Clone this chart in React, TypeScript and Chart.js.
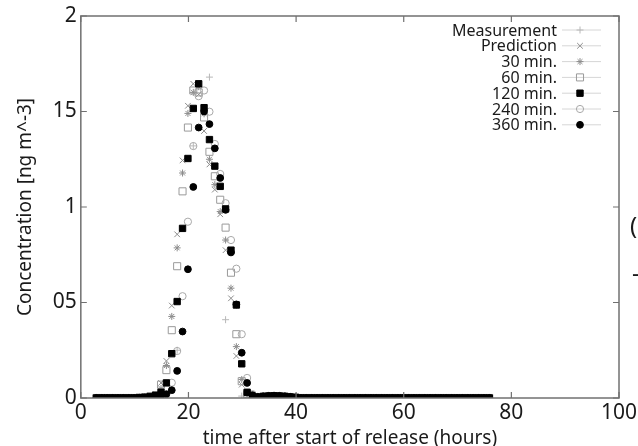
import React, { useEffect, useRef } from 'react';
import { Chart, registerables } from 'chart.js';
import { drawPoint } from 'chart.js/helpers';

Chart.register(...registerables);

// time after start of release (hours)
const HOURS = [
  2.9, 3.9, 4.9, 5.9, 6.9, 7.9, 8.9, 9.9,
  10.9, 11.9, 12.9, 13.9,
  14.9, 15.9, 16.9, 17.9, 18.9, 19.9, 20.9, 21.9, 22.9, 23.9, 24.9, 25.9, 26.9, 27.9, 28.9, 29.9, 30.9, 31.9,
  32.9, 33.9, 34.9, 35.9, 36.9, 37.9, 38.9, 39.9,
  40.9, 41.9, 42.9, 43.9, 44.9, 45.9, 46.9, 47.9, 48.9, 49.9, 50.9, 51.9, 52.9, 53.9, 54.9, 55.9, 56.9, 57.9,
  58.9, 59.9, 60.9, 61.9, 62.9, 63.9, 64.9, 65.9, 66.9, 67.9, 68.9, 69.9, 70.9, 71.9, 72.9, 73.9, 74.9, 75.9,
];

const PREDICTION = [
  0, 0, 0, 0, 0, 0, 0, 0,
  0.002, 0.004, 0.008, 0.02,
  0.079, 0.194, 0.484, 0.857, 1.244, 1.53, 1.645, 1.59, 1.398, 1.223, 1.091, 0.962, 0.774, 0.522, 0.22, 0.07, 0.01, 0.003,
  0.003, 0.006, 0.008, 0.009, 0.008, 0.006, 0.004, 0.002,
  0, 0, 0, 0, 0, 0, 0, 0, 0, 0, 0, 0, 0, 0, 0, 0, 0, 0,
  0, 0, 0, 0, 0, 0, 0, 0, 0, 0, 0, 0, 0, 0, 0, 0, 0, 0,
];

const MIN30 = [
  0, 0, 0, 0, 0, 0, 0, 0,
  0.002, 0.004, 0.006, 0.01,
  0.05, 0.17, 0.427, 0.786, 1.178, 1.49, 1.6, 1.63, 1.488, 1.25, 1.117, 0.976, 0.827, 0.575, 0.269, 0.097, 0.02, 0.005,
  0.004, 0.007, 0.009, 0.01, 0.009, 0.007, 0.004, 0.002,
  0, 0, 0, 0, 0, 0, 0, 0, 0, 0, 0, 0, 0, 0, 0, 0, 0, 0,
  0, 0, 0, 0, 0, 0, 0, 0, 0, 0, 0, 0, 0, 0, 0, 0, 0, 0,
];

const MIN60 = [
  0, 0, 0, 0, 0, 0, 0, 0,
  0.002, 0.004, 0.008, 0.01,
  0.07, 0.146, 0.355, 0.69, 1.082, 1.416, 1.61, 1.6, 1.469, 1.289, 1.161, 1.038, 0.892, 0.656, 0.334, 0.088, 0.02, 0.005,
  0.004, 0.007, 0.009, 0.01, 0.009, 0.007, 0.004, 0.002,
  0, 0, 0, 0, 0, 0, 0, 0, 0, 0, 0, 0, 0, 0, 0, 0, 0, 0,
  0, 0, 0, 0, 0, 0, 0, 0, 0, 0, 0, 0, 0, 0, 0, 0, 0, 0,
];

const MIN120 = [
  0, 0, 0, 0, 0, 0, 0, 0,
  0.002, 0.004, 0.008, 0.015,
  0.03, 0.079, 0.232, 0.505, 0.888, 1.254, 1.516, 1.645, 1.52, 1.353, 1.214, 1.108, 0.99, 0.774, 0.487, 0.179, 0.03, 0.008,
  0.004, 0.008, 0.01, 0.011, 0.01, 0.008, 0.005, 0.003,
  0, 0, 0, 0, 0, 0, 0, 0, 0, 0, 0, 0, 0, 0, 0, 0, 0, 0,
  0, 0, 0, 0, 0, 0, 0, 0, 0, 0, 0, 0, 0, 0, 0, 0, 0, 0,
];

const MIN240 = [
  0, 0, 0, 0, 0, 0, 0, 0,
  0.001, 0.002, 0.004, 0.006,
  0.02, 0.05, 0.08, 0.246, 0.533, 0.923, 1.319, 1.58, 1.61, 1.499, 1.33, 1.173, 1.02, 0.827, 0.677, 0.334, 0.105, 0.02,
  0.006, 0.009, 0.011, 0.012, 0.011, 0.009, 0.006, 0.003,
  0, 0, 0, 0, 0, 0, 0, 0, 0, 0, 0, 0, 0, 0, 0, 0, 0, 0,
  0, 0, 0, 0, 0, 0, 0, 0, 0, 0, 0, 0, 0, 0, 0, 0, 0, 0,
];

const MIN360 = [
  0, 0, 0, 0, 0, 0, 0, 0,
  0.001, 0.002, 0.003, 0.005,
  0.01, 0.02, 0.041, 0.142, 0.348, 0.674, 1.105, 1.416, 1.5, 1.434, 1.307, 1.152, 0.985, 0.762, 0.49, 0.237, 0.079, 0.015,
  0.006, 0.009, 0.011, 0.012, 0.011, 0.009, 0.006, 0.003,
  0, 0, 0, 0, 0, 0, 0, 0, 0, 0, 0, 0, 0, 0, 0, 0, 0, 0,
  0, 0, 0, 0, 0, 0, 0, 0, 0, 0, 0, 0, 0, 0, 0, 0, 0, 0,
];

const MEAS_HOURS = [2.9, 5.9, 8.9, 11.9, 14.9, 17.9, 20.9, 23.9, 26.9, 29.9, 32.9, 35.9, 38.9, 41.9, 44.9, 47.9, 50.9, 53.9, 56.9, 59.9, 62.9, 65.9, 68.9, 71.9, 74.9];
const MEASUREMENT = [0, 0, 0, 0, 0.01, 0.25, 1.32, 1.68, 0.41, 0.01, 0, 0, 0, 0, 0, 0, 0, 0, 0, 0, 0, 0, 0, 0, 0];

const SERIES_LABELS = ['Measurement', 'Prediction', '30 min.', '60 min.', '120 min.', '240 min.', '360 min.'];

const X_TICKS = [0, 20, 40, 60, 80, 100];
const X_TICK_LABELS = ['0', '20', '40', '60', '80', '100'];
const Y_TICKS = [0, 0.5, 1, 1.5, 2];
const Y_TICK_LABELS = ['0', '05', '1', '15', '2'];

const X_TITLE = 'time after start of release (hours)';
const Y_TITLE = 'Concentration [ng m^-3]';

const FONT = '"Noto Sans", "Open Sans", sans-serif';

type Style = { pointStyle: string; radius: number; color: string; fill: string; width: number; order: number };

const STYLES: Style[] = [
  { pointStyle: 'cross', radius: 3.5, color: '#b8b8b8', fill: 'rgba(0,0,0,0)', width: 1, order: 7 },
  { pointStyle: 'crossRot', radius: 4, color: '#8c8c8c', fill: 'rgba(0,0,0,0)', width: 1, order: 6 },
  { pointStyle: 'star', radius: 3.5, color: '#8c8c8c', fill: 'rgba(0,0,0,0)', width: 1, order: 5 },
  { pointStyle: 'rect', radius: 5, color: '#9a9a9a', fill: 'rgba(0,0,0,0)', width: 1, order: 4 },
  { pointStyle: 'rect', radius: 4.5, color: '#000000', fill: '#000000', width: 1, order: 2 },
  { pointStyle: 'circle', radius: 3.6, color: '#a8a8a8', fill: 'rgba(0,0,0,0)', width: 1, order: 3 },
  { pointStyle: 'circle', radius: 3.4, color: '#000000', fill: '#000000', width: 1, order: 1 },
];

function pts(xs: number[], ys: number[]) {
  return xs.map((x, i) => ({ x, y: ys[i] }));
}

const framePlugin = {
  id: 'frameAndLegend',
  afterDatasetsDraw(chart: any) {
    const { ctx, chartArea } = chart;
    const { left, right, top, bottom } = chartArea;
    const xs = chart.scales.x;
    const ys = chart.scales.y;
    ctx.save();
    ctx.strokeStyle = '#707070';
    ctx.lineWidth = 1.5;
    ctx.strokeRect(left, top, right - left, bottom - top);
    ctx.lineWidth = 1.2;
    ctx.beginPath();
    X_TICKS.forEach((v) => {
      const px = xs.getPixelForValue(v);
      ctx.moveTo(px, bottom);
      ctx.lineTo(px, bottom - 6);
      ctx.moveTo(px, top);
      ctx.lineTo(px, top + 6);
    });
    Y_TICKS.forEach((v) => {
      const py = ys.getPixelForValue(v);
      ctx.moveTo(left, py);
      ctx.lineTo(left + 6, py);
      ctx.moveTo(right, py);
      ctx.lineTo(right - 6, py);
    });
    ctx.stroke();

    // legend
    const textRight = 557;
    const lineL = 562;
    const lineR = 601;
    const markX = 580;
    ctx.font = '16px ' + FONT;
    ctx.textAlign = 'right';
    ctx.textBaseline = 'middle';
    SERIES_LABELS.forEach((label, i) => {
      const y = 30 + i * 15.8;
      ctx.fillStyle = '#1a1a1a';
      ctx.fillText(label, textRight, y + 1);
      ctx.strokeStyle = '#d6d6d6';
      ctx.lineWidth = 1;
      ctx.beginPath();
      ctx.moveTo(lineL, y);
      ctx.lineTo(lineR, y);
      ctx.stroke();
      const s = STYLES[i];
      ctx.strokeStyle = s.color;
      ctx.fillStyle = s.fill;
      ctx.lineWidth = s.width;
      drawPoint(ctx, { pointStyle: s.pointStyle as any, radius: s.radius, rotation: 0, borderWidth: s.width } as any, markX, y);
    });

    // clipped text of the neighbouring figure at the right edge
    ctx.fillStyle = '#1a1a1a';
    ctx.textAlign = 'left';
    ctx.textBaseline = 'alphabetic';
    ctx.font = '24px ' + FONT;
    ctx.fillText('(', 630, 234);
    ctx.fillText('-', 632, 281);
    ctx.restore();
  },
};

export default function App() {
  const ref = useRef<HTMLCanvasElement | null>(null);
  useEffect(() => {
    document.body.style.margin = '0';
    const canvas = ref.current;
    if (!canvas) return;
    const yList = [MEASUREMENT, PREDICTION, MIN30, MIN60, MIN120, MIN240, MIN360];
    const datasets = SERIES_LABELS.map((label, i) => {
      const s = STYLES[i];
      const xsArr = i === 0 ? MEAS_HOURS : HOURS;
      return {
        label,
        data: pts(xsArr, yList[i]),
        showLine: false,
        pointStyle: s.pointStyle as any,
        pointRadius: s.radius,
        pointHoverRadius: s.radius,
        pointBorderWidth: s.width,
        pointBorderColor: s.color,
        pointBackgroundColor: s.fill,
        borderColor: s.color,
        backgroundColor: s.fill,
        order: s.order,
      };
    });
    const chart = new Chart(canvas, {
      type: 'scatter',
      data: { datasets },
      options: {
        animation: false,
        responsive: false,
        devicePixelRatio: 1,
        layout: { padding: { left: 8, right: 19, top: 16, bottom: -2 } },
        plugins: { legend: { display: false }, tooltip: { enabled: false } },
        scales: {
          x: {
            type: 'linear',
            min: 0,
            max: 100,
            afterBuildTicks: (axis: any) => {
              axis.ticks = X_TICKS.map((v) => ({ value: v }));
            },
            afterFit: (axis: any) => {
              axis.paddingRight = 0;
              axis.paddingLeft = 0;
            },
            grid: { display: false, drawTicks: false },
            border: { display: false },
            ticks: {
              padding: 5,
              color: '#1a1a1a',
              font: { family: FONT, size: 21, lineHeight: 1 },
              maxRotation: 0,
              callback: (v: any) => {
                const i = X_TICKS.indexOf(Number(v));
                return i >= 0 ? X_TICK_LABELS[i] : '';
              },
            },
            title: {
              display: true,
              text: X_TITLE,
              color: '#1a1a1a',
              font: { family: FONT, size: 19, lineHeight: 1 },
              padding: { top: 0, bottom: 0 },
            },
          },
          y: {
            type: 'linear',
            min: 0,
            max: 2,
            afterBuildTicks: (axis: any) => {
              axis.ticks = Y_TICKS.map((v) => ({ value: v }));
            },
            grid: { display: false, drawTicks: false },
            border: { display: false },
            ticks: {
              padding: 4,
              color: '#1a1a1a',
              font: { family: FONT, size: 21, lineHeight: 1 },
              callback: (v: any) => {
                const i = Y_TICKS.indexOf(Number(v));
                return i >= 0 ? Y_TICK_LABELS[i] : '';
              },
            },
            title: {
              display: true,
              text: Y_TITLE,
              color: '#1a1a1a',
              font: { family: FONT, size: 19, lineHeight: 1.2 },
              padding: { top: 6, bottom: 12 },
            },
          },
        },
      },
      plugins: [framePlugin],
    });
    return () => chart.destroy();
  }, []);
  return (
    <div style={{ width: 638, height: 446 }}>
      <canvas ref={ref} width={638} height={446} style={{ display: 'block' }} />
    </div>
  );
}
